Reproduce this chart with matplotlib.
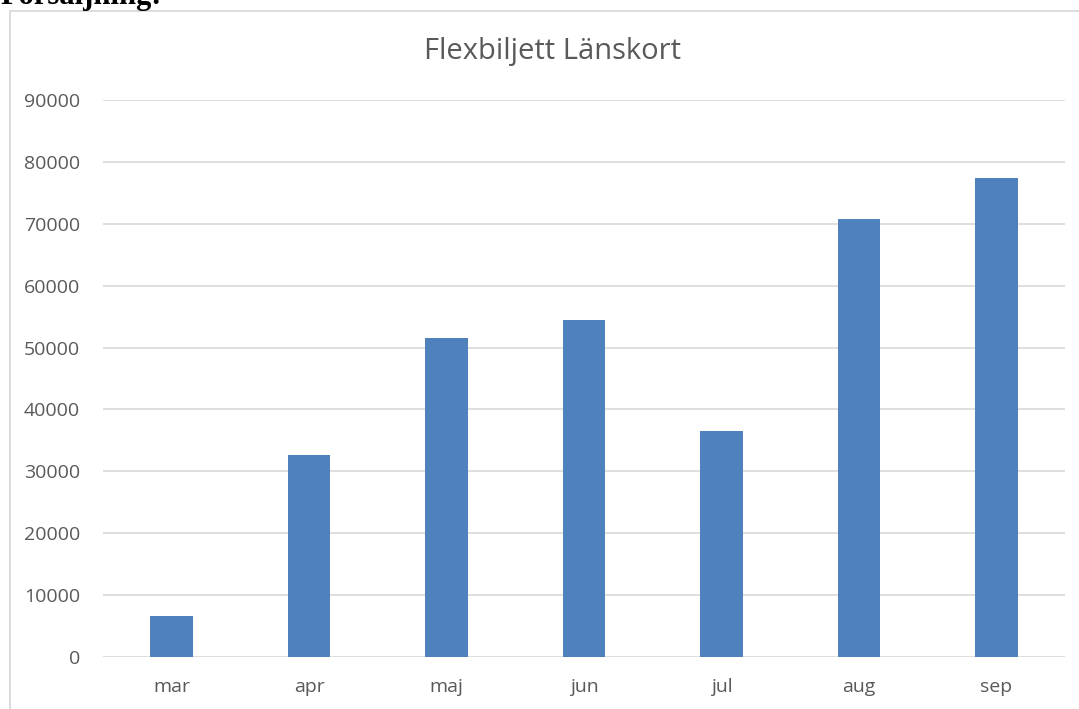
import numpy as np
import matplotlib.pyplot as plt
from matplotlib.patches import Rectangle

# data
months = ["mar", "apr", "maj", "jun", "jul", "aug", "sep"]
sales = [6650, 32650, 51600, 54400, 36500, 70750, 77400]
y_ticks = [0, 10000, 20000, 30000, 40000, 50000, 60000, 70000, 80000, 90000]

W, H = 1079, 709
fig = plt.figure(figsize=(W / 100, H / 100), dpi=100)
fig.patch.set_facecolor("white")

# chart frame, runs off the right and bottom edge
fig.patches.append(Rectangle((10 / W, -0.05), 1.1, (H - 11) / H + 0.05,
                             transform=fig.transFigure, fill=False,
                             edgecolor="#d9d9d9", linewidth=1.3))

# heading above the chart, cut off at the top
fig.text(0.0, 1 - 4 / H, "Försäljning:", family="Liberation Serif",
         fontweight="bold", fontsize=22, color="black", ha="left",
         va="baseline")

ax = fig.add_axes([103 / W, 52 / H, (1065 - 103) / W, (657 - 100) / H])
x = np.arange(len(months))
ax.bar(x, sales, width=0.31, color="#4f81bd", zorder=3)

ax.set_xlim(-0.5, len(months) - 0.5)
ax.set_ylim(0, 90000)
ax.set_yticks(y_ticks)
ax.set_yticklabels([str(v) for v in y_ticks])
ax.set_xticks(x)
ax.set_xticklabels(months)

ax.grid(axis="y", color="#d9d9d9", linewidth=1.2, zorder=0)
for s in ax.spines.values():
    s.set_visible(False)
ax.tick_params(axis="both", length=0, colors="#595959", labelsize=14)
ax.tick_params(axis="y", pad=16.5)
ax.tick_params(axis="x", pad=15)
for lbl in ax.get_xticklabels() + ax.get_yticklabels():
    lbl.set_family("Open Sans")

fig.text(553 / W, 1 - 52 / H, "Flexbiljett Länskort", family="Open Sans",
         fontsize=21, color="#595959", ha="center", va="center")

fig.savefig("out.png", dpi=100, facecolor="white")
